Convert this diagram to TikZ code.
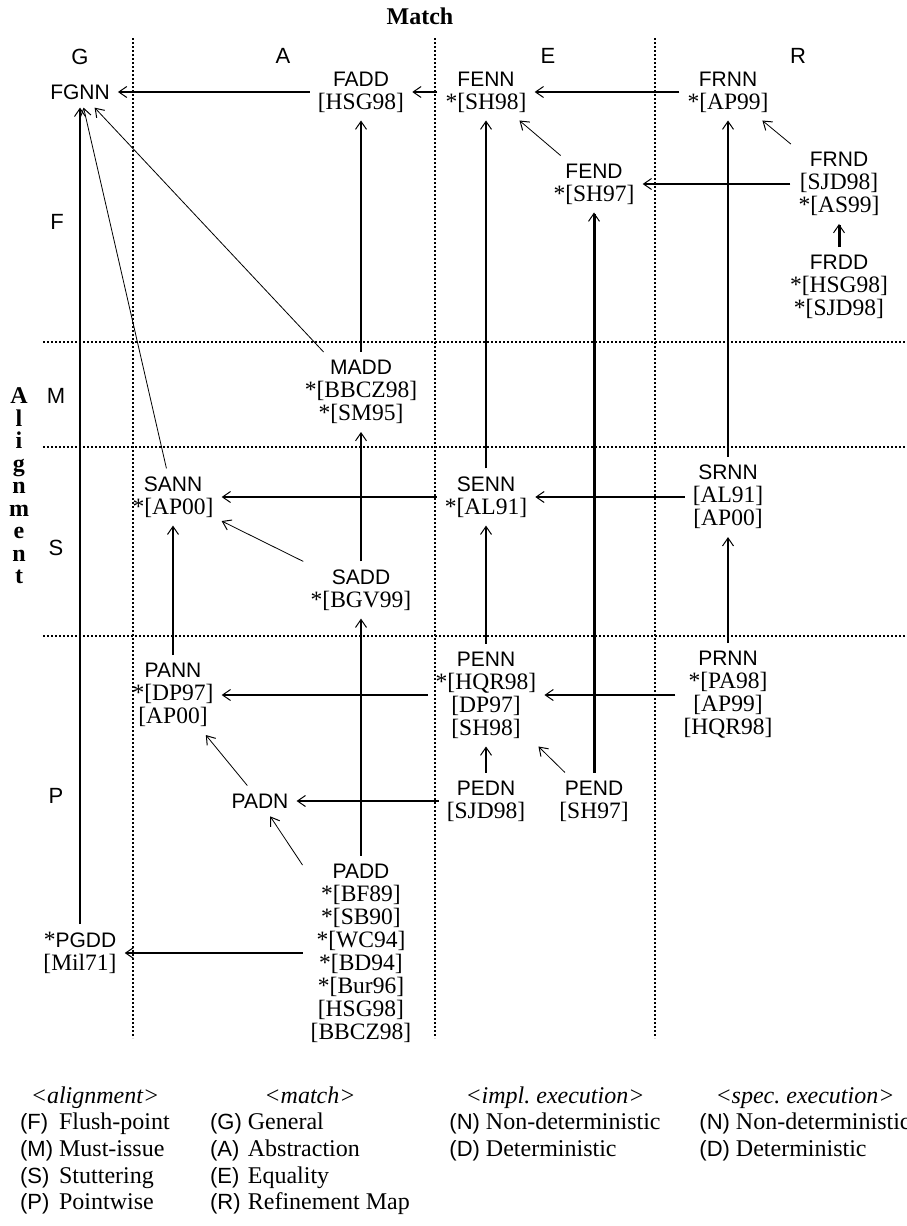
\documentclass[tikz,border=0pt]{standalone}
\usepackage{fontspec}
\setmainfont{Liberation Serif}
\newfontfamily\sansnm{Liberation Sans}
\newcommand{\nm}[1]{{\sansnm\fontsize{21}{23}\selectfont #1}}
\newcommand{\key}[1]{{\sansnm\fontsize{22}{26.7}\selectfont(#1)}}
\usetikzlibrary{arrows.meta}

\begin{document}
\begin{tikzpicture}[x=1pt,y=-1pt,
    >={Straight Barb[length=8pt,width=11pt,line width=1pt]},
    cls/.style={align=center,inner sep=8pt,font=\fontsize{23.5}{23}\selectfont},
    hdr/.style={font=\sansnm\fontsize{22}{22}\selectfont,inner sep=0pt,anchor=base},
    grid/.style={line width=1.6pt,dash pattern=on 1.6pt off 2.4pt},
    main/.style={->,line width=1.7pt},
    heavy/.style={->,line width=3pt},
    slim/.style={->,line width=0.8pt}]
  \useasboundingbox (0,0) rectangle (906,1226);

  % grid
  \foreach \x in {133,435,655} \draw[grid] (\x,38) -- (\x,1038);
  \foreach \y in {342,447,636} \draw[grid] (43,\y) -- (906,\y);

  % axes
  \node[font=\bfseries\fontsize{24}{24}\selectfont,anchor=base] (title) at (420,24) {Match};
  \node[align=center,font=\bfseries\fontsize{24}{22.5}\selectfont,inner sep=0pt] (axis) at (19,486)
    {A\\l\\i\\g\\n\\m\\e\\n\\t};
  \node[hdr] (colG) at (80,64) {G};
  \node[hdr] (colA) at (283,63) {A};
  \node[hdr] (colE) at (548,63) {E};
  \node[hdr] (colR) at (798,63) {R};
  \node[hdr] (rowF) at (57,229) {F};
  \node[hdr] (rowM) at (56,403) {M};
  \node[hdr] (rowS) at (56,555) {S};
  \node[hdr] (rowP) at (56,803) {P};

  % flush-point
  \node[cls] (FGNN) at (80,92) {\nm{FGNN}};
  \node[cls] (FADD) at (361,92) {\nm{FADD}\\{}[HSG98]};
  \node[cls] (FENN) at (486,92) {\nm{FENN}\\{}*[SH98]};
  \node[cls] (FRNN) at (728,92) {\nm{FRNN}\\{}*[AP99]};
  \node[cls] (FEND) at (594,184) {\nm{FEND}\\{}*[SH97]};
  \node[cls] (FRND) at (839,184) {\nm{FRND}\\{}[SJD98]\\{}*[AS99]};
  \node[cls] (FRDD) at (839,287) {\nm{FRDD}\\{}*[HSG98]\\{}*[SJD98]};
  % must-issue
  \node[cls] (MADD) at (361,392) {\nm{MADD}\\{}*[BBCZ98]\\{}*[SM95]};
  % stuttering
  \node[cls] (SANN) at (173,497) {\nm{SANN}\\{}*[AP00]};
  \node[cls] (SENN) at (486,497) {\nm{SENN}\\{}*[AL91]};
  \node[cls] (SRNN) at (728,497) {\nm{SRNN}\\{}[AL91]\\{}[AP00]};
  \node[cls] (SADD) at (361,590) {\nm{SADD}\\{}*[BGV99]};
  % pointwise
  \node[cls] (PANN) at (173,695) {\nm{PANN}\\{}*[DP97]\\{}[AP00]};
  \node[cls] (PENN) at (486,695) {\nm{PENN}\\{}*[HQR98]\\{}[DP97]\\{}[SH98]};
  \node[cls] (PRNN) at (728,695) {\nm{PRNN}\\{}*[PA98]\\{}[AP99]\\{}[HQR98]};
  \node[cls] (PEDN) at (486,801) {\nm{PEDN}\\{}[SJD98]};
  \node[cls] (PEND) at (594,801) {\nm{PEND}\\{}[SH97]};
  \node[cls] (PADN) at (260,801) {\nm{PADN}};
  \node[cls] (PADD) at (361,953) {\nm{PADD}\\{}*[BF89]\\{}*[SB90]\\{}*[WC94]\\{}*[BD94]\\{}*[Bur96]\\{}[HSG98]\\{}[BBCZ98]};
  \node[cls] (PGDD) at (80,953) {*\nm{PGDD}\\{}[Mil71]};

  % implications
  \draw[main] (FADD) -- (FGNN);
  \draw[main] (FENN) -- (FADD);
  \draw[main] (FRNN) -- (FENN);
  \draw[main] (FRND) -- (FEND);
  \draw[heavy] (FRDD) -- (FRND);
  \draw[slim] (FRND) -- (FRNN);
  \draw[slim] (FEND) -- (FENN);
  \draw[heavy] (PEND) -- (FEND);
  \draw[main] (SRNN) -- (FRNN);
  \draw[main] (SENN) -- (FENN);
  \draw[main] (MADD) -- (FADD);
  \draw[slim] (MADD) -- (FGNN);
  \draw[slim] (SANN) -- (FGNN);
  \draw[main] (PGDD) -- (FGNN);
  \draw[main] (SADD) -- (MADD);
  \draw[main] (SENN) -- (SANN);
  \draw[main] (SRNN) -- (SENN);
  \draw[slim] (SADD) -- (SANN);
  \draw[main] (PANN) -- (SANN);
  \draw[main] (PENN) -- (SENN);
  \draw[main] (PRNN) -- (SRNN);
  \draw[main] (PADD) -- (SADD);
  \draw[main] (PENN) -- (PANN);
  \draw[main] (PRNN) -- (PENN);
  \draw[main] (PEDN) -- (PENN);
  \draw[slim] (PEND) -- (PENN);
  \draw[main] (PEDN) -- (PADN);
  \draw[slim] (PADN) -- (PANN);
  \draw[slim] (PADD) -- (PADN);
  \draw[main] (PADD) -- (PGDD);

  % legend
  \begin{scope}[every node/.style={anchor=base,inner sep=0pt,font=\fontsize{24}{26.7}\selectfont}]
    \node (keyAlign) at (95,1103) {\begin{tabular}[t]{@{}l@{\ }l@{}}
      \multicolumn{2}{c}{\textit{<alignment>}}\\
      \key{F} & Flush-point\\ \key{M} & Must-issue\\ \key{S} & Stuttering\\ \key{P} & Pointwise
    \end{tabular}};
    \node (keyMatch) at (310,1103) {\begin{tabular}[t]{@{}l@{\ }l@{}}
      \multicolumn{2}{c}{\textit{<match>}}\\
      \key{G} & General\\ \key{A} & Abstraction\\ \key{E} & Equality\\ \key{R} & Refinement Map
    \end{tabular}};
    \node (keyImpl) at (555,1103) {\begin{tabular}[t]{@{}l@{\ }l@{}}
      \multicolumn{2}{c}{\textit{<impl.\ execution>}}\\
      \key{N} & Non-deterministic\\ \key{D} & Deterministic
    \end{tabular}};
    \node (keySpec) at (805,1103) {\begin{tabular}[t]{@{}l@{\ }l@{}}
      \multicolumn{2}{c}{\textit{<spec.\ execution>}}\\
      \key{N} & Non-deterministic\\ \key{D} & Deterministic
    \end{tabular}};
  \end{scope}
\end{tikzpicture}
\end{document}
